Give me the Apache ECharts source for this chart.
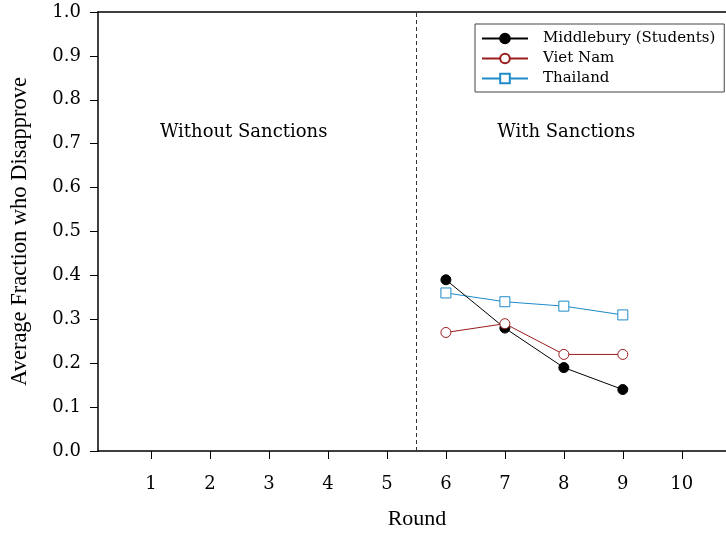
<!DOCTYPE html>
<html>
<head>
<meta charset="utf-8">
<script src="https://cdn.jsdelivr.net/npm/echarts@6/dist/echarts.min.js"></script>
<style>html,body{margin:0;padding:0;background:#fff}#c{width:726px;height:533px}</style>
</head>
<body>
<div id="c"></div>
<script>
var rounds = [6, 7, 8, 9];
var middlebury = [0.39, 0.28, 0.19, 0.14];
var vietNam = [0.27, 0.29, 0.22, 0.22];
var thailand = [0.36, 0.34, 0.33, 0.31];
var xTicks = [1, 2, 3, 4, 5, 6, 7, 8, 9, 10];
var yTicks = [0, 0.1, 0.2, 0.3, 0.4, 0.5, 0.6, 0.7, 0.8, 0.9, 1.0];
var divider = 5.5;
var annotations = [
  {text: 'Without Sanctions', x: 2.57, y: 0.725},
  {text: 'With Sanctions', x: 8.04, y: 0.725}
];

function pairs(xs, ys) { return xs.map(function (x, i) { return [x, ys[i]]; }); }

var serifTick = 'DejaVu Serif';
var serifTitle = 'Liberation Serif';

var chart = echarts.init(document.getElementById('c'));
chart.setOption({
  animation: false,
  backgroundColor: '#fff',
  grid: {left: 98, top: 12, right: 0, bottom: 82, containLabel: false, outerBoundsMode: 'none'},
  legend: {
    orient: 'vertical',
    left: 475, top: 24,
    padding: [7, 9, 6, 6],
    borderColor: '#444', borderWidth: 1,
    itemWidth: 46, itemHeight: 12, itemGap: 5,
    textStyle: {fontFamily: serifTick, fontSize: 15, color: '#000', padding: [0, 0, 0, 10]},
    data: ['Middlebury (Students)', 'Viet Nam', 'Thailand']
  },
  xAxis: [{
    type: 'value', min: 0.1, max: 10.75,
    axisLine: {lineStyle: {color: '#000', width: 1.5}},
    axisTick: {customValues: xTicks, length: 8, lineStyle: {color: '#000'}},
    axisLabel: {customValues: xTicks, margin: 24, fontFamily: serifTick, fontSize: 18, color: '#000'},
    splitLine: {show: false},
    name: 'Round', nameLocation: 'middle', nameGap: 57,
    nameTextStyle: {fontFamily: serifTitle, fontSize: 22, color: '#000', padding: [0, 0, 0, 10]}
  }, {
    type: 'value', min: 0.1, max: 10.75, position: 'top',
    axisLine: {show: true, onZero: false, lineStyle: {color: '#000', width: 1.5}},
    axisTick: {show: false}, axisLabel: {show: false}, splitLine: {show: false}
  }],
  yAxis: {
    type: 'value', min: 0, max: 1, interval: 0.1,
    axisLine: {show: true, lineStyle: {color: '#000', width: 1.5}},
    axisTick: {show: true, length: 8, lineStyle: {color: '#000'}},
    axisLabel: {margin: 17, fontFamily: serifTick, fontSize: 18, color: '#000',
      formatter: function (v) { return v.toFixed(1); }},
    splitLine: {show: false},
    name: 'Average Fraction who Disapprove', nameLocation: 'middle', nameGap: 66,
    nameTextStyle: {fontFamily: serifTitle, fontSize: 22.5, color: '#000'}
  },
  series: [{
    name: 'Middlebury (Students)', type: 'line', xAxisIndex: 0,
    data: pairs(rounds, middlebury),
    symbol: 'circle', symbolSize: 10,
    lineStyle: {color: '#000', width: 1},
    itemStyle: {color: '#000', borderColor: '#000', borderWidth: 1},
    markLine: {
      silent: true, symbol: 'none', label: {show: false},
      lineStyle: {color: '#333', type: [4, 3], width: 1},
      data: [{xAxis: divider}]
    },
    markPoint: {
      silent: true, symbol: 'circle', symbolSize: 0,
      label: {show: true, position: 'inside', fontFamily: serifTick, fontSize: 18, color: '#000',
        formatter: function (p) { return p.name; }},
      data: annotations.map(function (a) { return {name: a.text, coord: [a.x, a.y]}; })
    },
    z: 3
  }, {
    name: 'Viet Nam', type: 'line', xAxisIndex: 0,
    data: pairs(rounds, vietNam),
    symbol: 'circle', symbolSize: 10,
    lineStyle: {color: '#9a1c1c', width: 1},
    itemStyle: {color: '#fff', borderColor: '#9a1c1c', borderWidth: 1},
    z: 4
  }, {
    name: 'Thailand', type: 'line', xAxisIndex: 0,
    data: pairs(rounds, thailand),
    symbol: 'rect', symbolSize: 10,
    lineStyle: {color: '#1e8bc8', width: 1},
    itemStyle: {color: '#fff', borderColor: '#1e8bc8', borderWidth: 1},
    z: 2
  }]
});
</script>
</body>
</html>
